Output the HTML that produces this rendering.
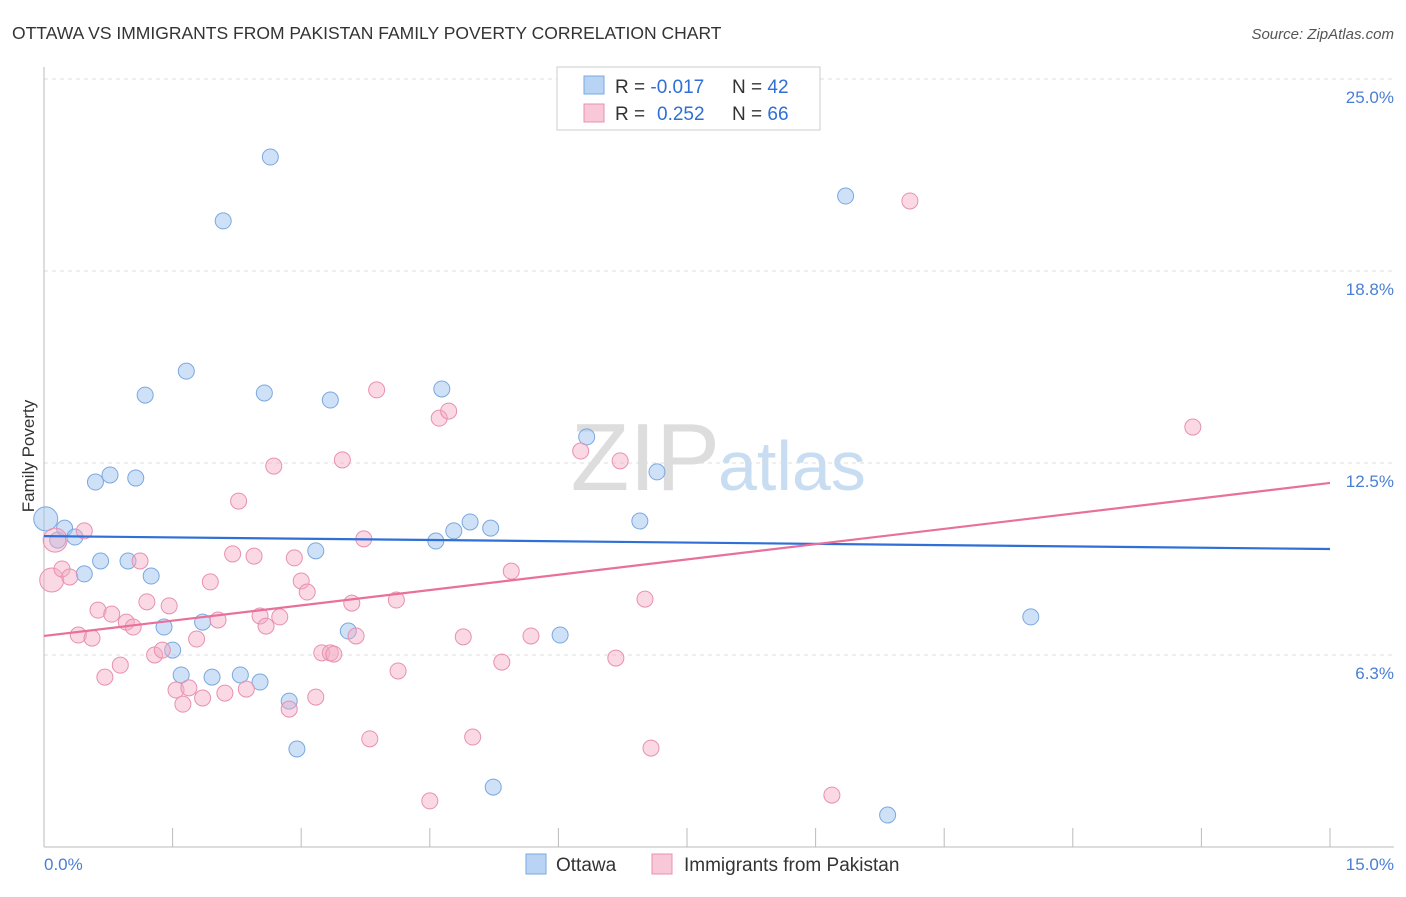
<!DOCTYPE html>
<html><head><meta charset="utf-8"><style>
body{margin:0;background:#fff;font-family:"Liberation Sans",sans-serif}
svg text{font-family:"Liberation Sans",sans-serif}
</style></head><body>
<svg width="1406" height="892" viewBox="0 0 1406 892">
<text x="12" y="39" font-size="17.5" fill="#333">OTTAWA VS IMMIGRANTS FROM PAKISTAN FAMILY POVERTY CORRELATION CHART</text>
<text x="1394" y="39" font-size="15" fill="#555" font-style="italic" text-anchor="end">Source: ZipAtlas.com</text>
<text x="720" y="490" font-size="96" fill="#ddd" text-anchor="end" font-family="Liberation Serif">ZIP</text>
<text x="718" y="490" font-size="70" fill="#c8dcf2">atlas</text>
<g id="grid"></g>
<g id="axes"></g>
<g id="pts"></g>
<g id="lines"></g>
<text transform="translate(34,456) rotate(-90)" font-size="17" fill="#333" text-anchor="middle">Family Poverty</text>
<text x="44" y="870" font-size="17" fill="#4a7fd4">0.0%</text>
<text x="1394" y="870" font-size="17" fill="#4a7fd4" text-anchor="end">15.0%</text>
<g>
<rect x="557" y="67" width="263" height="63" fill="#fff" stroke="#ccc"/>
<rect x="584" y="76" width="20" height="18" fill="#b9d3f5" stroke="#7aa8e0"/>
<rect x="584" y="104" width="20" height="18" fill="#f9c8d8" stroke="#e890b0"/>
<text x="615" y="93" font-size="19" fill="#333">R = <tspan fill="#2f6fd6">-0.017</tspan><tspan x="732">N = </tspan><tspan fill="#2f6fd6">42</tspan></text>
<text x="615" y="120" font-size="19" fill="#333">R = <tspan x="657" fill="#2f6fd6">0.252</tspan><tspan x="732">N = </tspan><tspan fill="#2f6fd6">66</tspan></text>
</g>
<g>
<rect x="526" y="854" width="20" height="20" fill="#b9d3f5" stroke="#7aa8e0"/>
<text x="556" y="871" font-size="19" fill="#333">Ottawa</text>
<rect x="652" y="854" width="20" height="20" fill="#f9c8d8" stroke="#e890b0"/>
<text x="684" y="871" font-size="19" fill="#333">Immigrants from Pakistan</text>
</g>
</svg>
<script>
const yTicks=[6.25,12.5,18.75,25];
const yTickLabels=["6.3%","12.5%","18.8%","25.0%"];
const xTicks=[0,1.5,3,4.5,6,7.5,9,10.5,12,13.5,15];
const ottawaX=[0.02,0.16,0.24,0.36,0.47,0.60,0.66,0.77,0.98,1.07,1.18,1.25,1.40,1.50,1.60,1.66,1.85,1.96,2.09,2.29,2.52,2.57,2.64,2.86,2.95,3.17,3.34,3.55,4.57,4.64,4.78,4.97,5.21,5.24,6.02,6.33,6.95,7.15,9.35,9.84,11.51];
const ottawaY=[10.68,9.99,10.38,10.09,8.89,11.88,9.31,12.11,9.31,12.01,14.71,8.82,7.16,6.41,5.60,15.49,7.32,5.53,20.38,5.60,5.37,14.78,22.46,4.75,3.19,9.64,14.55,7.03,9.96,14.91,10.29,10.58,10.38,1.95,6.90,13.35,10.61,12.21,21.19,1.04,7.49];
const pakX=[0.09,0.13,0.21,0.30,0.47,0.40,0.56,0.63,0.71,0.79,0.89,0.96,1.04,1.12,1.20,1.29,1.38,1.46,1.54,1.62,1.69,1.78,1.85,1.94,2.03,2.11,2.20,2.27,2.36,2.45,2.52,2.59,2.68,2.75,2.86,2.92,3.00,3.07,3.17,3.24,3.34,3.38,3.48,3.59,3.64,3.73,3.80,3.88,4.11,4.13,4.50,4.61,4.72,4.89,5.00,5.34,5.45,5.68,6.26,6.67,6.72,7.01,7.08,9.19,10.10,13.40];
const pakY=[8.69,9.99,9.05,8.79,10.29,6.90,6.80,7.71,5.53,7.58,5.92,7.32,7.16,9.31,7.98,6.25,6.41,7.85,5.11,4.65,5.18,6.77,4.85,8.63,7.39,5.01,9.54,11.26,5.14,9.47,7.52,7.19,12.40,7.49,4.49,9.41,8.66,8.30,4.88,6.32,6.32,6.28,12.60,7.94,6.87,10.03,3.52,14.88,8.04,5.73,1.50,13.96,14.19,6.84,3.58,6.02,8.98,6.87,12.89,6.15,12.57,8.07,3.22,1.69,21.03,13.67];
const ottawaTrend=[10.12,9.70];
const pakTrend=[6.87,11.85];
const NS="http://www.w3.org/2000/svg";
const X=v=>44+v/15*1286, Y=v=>847-v*30.72;
function mk(t,a,p){const e=document.createElementNS(NS,t);for(const k in a)e.setAttribute(k,a[k]);p.appendChild(e);return e;}
const grid=document.getElementById('grid'),axes=document.getElementById('axes'),pts=document.getElementById('pts'),lines=document.getElementById('lines');
yTicks.forEach((v,i)=>{
 const l=mk('line',{x1:44,x2:1394,y1:Y(v),y2:Y(v),stroke:'#ddd','stroke-dasharray':'4,4'},grid);
 
 
 const t=mk('text',{x:1394,y:Y(v)+24,'font-size':17,fill:'#4a7fd4','text-anchor':'end'},grid);
 t.textContent=yTickLabels[i];
 
 
});
const ya=mk('line',{x1:44,x2:44,y1:67,y2:847,stroke:'#bbb'},axes);


const xa=mk('line',{x1:44,x2:1394,y1:847,y2:847,stroke:'#bbb'},axes);


xTicks.forEach(v=>{const t=mk('line',{x1:X(v),x2:X(v),y1:828,y2:847,stroke:'#bbb'},axes);
 
 });
ottawaX.forEach((v,i)=>{const c=mk('circle',{cx:X(v),cy:Y(ottawaY[i]),r:i==0?12:8,fill:'rgba(160,196,240,0.5)',stroke:'#7aa8e0','stroke-width':1},pts);
 
 });
pakX.forEach((v,i)=>{const c=mk('circle',{cx:X(v),cy:Y(pakY[i]),r:(i==0||i==1)?12:8,fill:'rgba(245,170,195,0.45)',stroke:'#e890b0','stroke-width':1},pts);
 
 });
const l1=mk('line',{x1:X(0),x2:X(15),y1:Y(ottawaTrend[0]),y2:Y(ottawaTrend[1]),stroke:'#2f6fd6','stroke-width':2.2},lines);


const l2=mk('line',{x1:X(0),x2:X(15),y1:Y(pakTrend[0]),y2:Y(pakTrend[1]),stroke:'#e8709a','stroke-width':2.2},lines);


</script>
</body></html>
